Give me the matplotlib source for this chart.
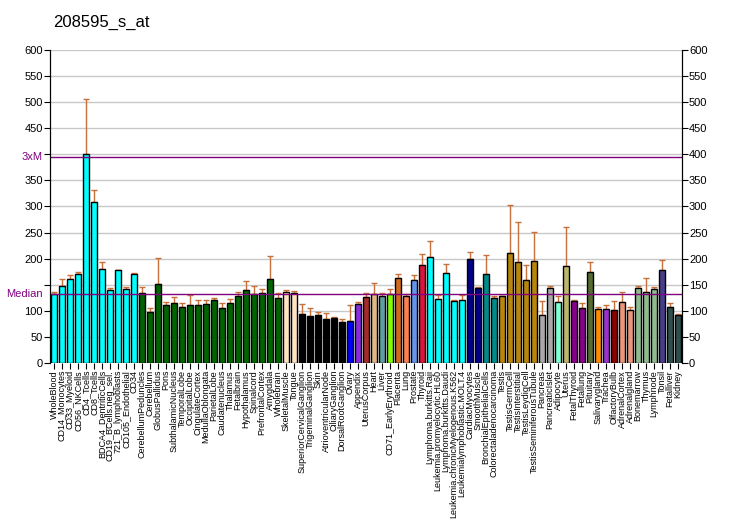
import matplotlib
matplotlib.use("Agg")
from matplotlib import pyplot as plt
import numpy as np

plt.rcParams['font.family'] = ['Liberation Sans', 'DejaVu Sans']

title = "208595_s_at"

labels = [
    "WholeBlood", "CD14_Monocytes", "CD33_Myeloid", "CD56_NKCells", "CD4_Tcells",
    "CD8_Tcells", "BDCA4_DentriticCells", "CD19_BCells.neg_sel.", "721_B_lymphoblasts",
    "CD105_Endothelial", "CD34", "CerebellumPeduncles", "Cerebellum", "GlobusPallidus",
    "Pons", "SubthalamicNucleus", "TemporalLobe", "OccipitalLobe", "CingulateCortex",
    "MedullaOblongata", "ParietalLobe", "Caudatenucleus", "Thalamus", "Fetalbrain",
    "Hypothalamus", "Spinalcord", "PrefrontalCortex", "Amygdala", "Wholebrain",
    "SkeletalMuscle", "Tongue", "SuperiorCervicalGanglion", "TrigeminalGanglion", "Skin",
    "AtrioventricularNode", "CiliaryGanglion", "DorsalRootGanglion", "Ovary", "Appendix",
    "UterusCorpus", "Heart", "Liver", "CD71_EarlyErythroid", "Placenta", "Lung",
    "Prostate", "Thyroid", "Lymphoma.burkitts.Raji", "Leukemia.promyelocytic.HL60",
    "Lymphoma.burkitts.Daudi", "Leukemia.chronicMyelogenous.K562",
    "Leukemialymphoblastic.MOLT.4", "CardiacMyocytes", "SmoothMuscle",
    "BronchialEpithelialCells", "Colorectaladenocarcinoma", "Testis", "TestisGermCell",
    "TestisInterstitial", "TestisLeydigCell", "TestisSeminiferousTubule", "Pancreas",
    "PancreaticIslet", "Adipocyte", "Uterus", "FetalThyroid", "Fetallung", "Pituitary",
    "Salivarygland", "Trachea", "OlfactoryBulb", "AdrenalCortex", "Adrenalgland",
    "Bonemarrow", "Thymus", "Lymphnode", "Tonsil", "Fetalliver", "Kidney",
]

values = [
    132, 148, 161, 170, 400, 309, 180, 140, 178, 142, 170,
    134, 98, 151, 111, 115, 108, 111, 111, 113, 121, 105, 115, 129, 140, 132, 134, 161, 124,
    136, 134,
    94, 90, 92, 85, 87, 79,
    81, 113, 127, 132, 129, 132, 163, 129, 159, 188,
    203, 122, 172, 119, 121, 199, 143, 170, 124,
    128, 210, 193, 159, 195,
    92, 143, 117, 186, 119, 105, 174, 103, 103, 101, 117, 101,
    143, 136, 142, 178, 107, 92,
]

err_top = [
    137, 161, 168, 174, 507, 331, 193, 144, 179, 146, 172,
    146, 105, 201, 117, 126, 115, 131, 121, 121, 124, 115, 123, 136, 157, 148, 142, 205, 134,
    140, 138,
    113, 105, 98, 96, 89, 85,
    112, 117, 134, 153, 134, 142, 170, 132, 168, 209,
    234, 130, 190, 121, 130, 212, 145, 207, 128,
    129, 302, 270, 188, 251,
    119, 147, 128, 260, 121, 115, 193, 107, 111, 119, 136, 107,
    147, 163, 145, 197, 115, 94,
]

colors = (
    ["#00ffff"] * 11 + ["#006400"] * 18 + ["#ffe4c4"] * 2 + ["#000000"] * 6
    + ["#0000ff", "#8a2be2", "#a52a2a", "#deb887", "#5f9ea0", "#7fff00", "#d2691e",
       "#ff7f50", "#6495ed", "#dc143c"]
    + ["#00ffff"] * 5 + ["#00008b"] * 2 + ["#008b8b"] * 2 + ["#b8860b"] * 5
    + ["#a9a9a9"] * 2 + ["#7fffd4", "#bdb76b", "#8b008b", "#8b008b", "#556b2f",
                         "#ff8c00", "#9932cc", "#8b0000", "#e9967a", "#e9967a"]
    + ["#8fbc8f"] * 3 + ["#483d8b", "#2f4f4f", "#2f4f4f"]
)

median = 132
three_m = 395

fig = plt.figure(figsize=(7.32, 5.30), dpi=100)
ax = fig.add_axes([50 / 732, 1 - 363 / 530, 632 / 732, 313 / 530])

x = np.arange(len(values))
vals = np.array(values)
errs = np.array(err_top) - vals
ax.bar(x, vals, width=0.78, color=colors, edgecolor="black", linewidth=1, zorder=3)
ax.errorbar(x, vals, yerr=[np.zeros_like(errs), errs], fmt="none", ecolor="#c8703a",
            elinewidth=1, capsize=2.5, capthick=1, zorder=2)

for yv in range(50, 601, 50):
    ax.axhline(yv, color="#c8c8c8", linewidth=1, zorder=1)
ax.axhline(three_m, color="#800080", linewidth=1, zorder=4)
ax.axhline(median, color="#800080", linewidth=1, zorder=4)

ax.set_xlim(-0.5, len(values) - 0.5)
ax.set_ylim(0, 600)
yt = list(range(0, 601, 50))
ax.set_yticks(yt)
ax.set_yticklabels(["" if t in (150, 400) else str(t) for t in yt], fontsize=8)
ax.text(-0.012, three_m, "3xM", color="#800080", fontsize=8, ha="right", va="center",
        transform=ax.get_yaxis_transform())
ax.text(-0.012, median, "Median", color="#800080", fontsize=8, ha="right", va="center",
        transform=ax.get_yaxis_transform())

ax.set_xticks(x)
ax.set_xticklabels(labels, rotation=90, fontsize=6.5)
ax.tick_params(axis="x", length=4, pad=1)
ax.tick_params(axis="y", length=4, pad=1)

ax2 = ax.twinx()
ax2.set_ylim(0, 600)
ax2.set_yticks(yt)
ax2.set_yticklabels([str(t) for t in yt], fontsize=8)
ax2.tick_params(axis="y", length=4, pad=1)

for a in (ax, ax2):
    a.spines["top"].set_visible(False)
    a.spines["bottom"].set_visible(False)

fig.text(53 / 732, 1 - 22 / 530, title, fontsize=12, ha="left", va="center")

fig.savefig("out.png", dpi=100)
